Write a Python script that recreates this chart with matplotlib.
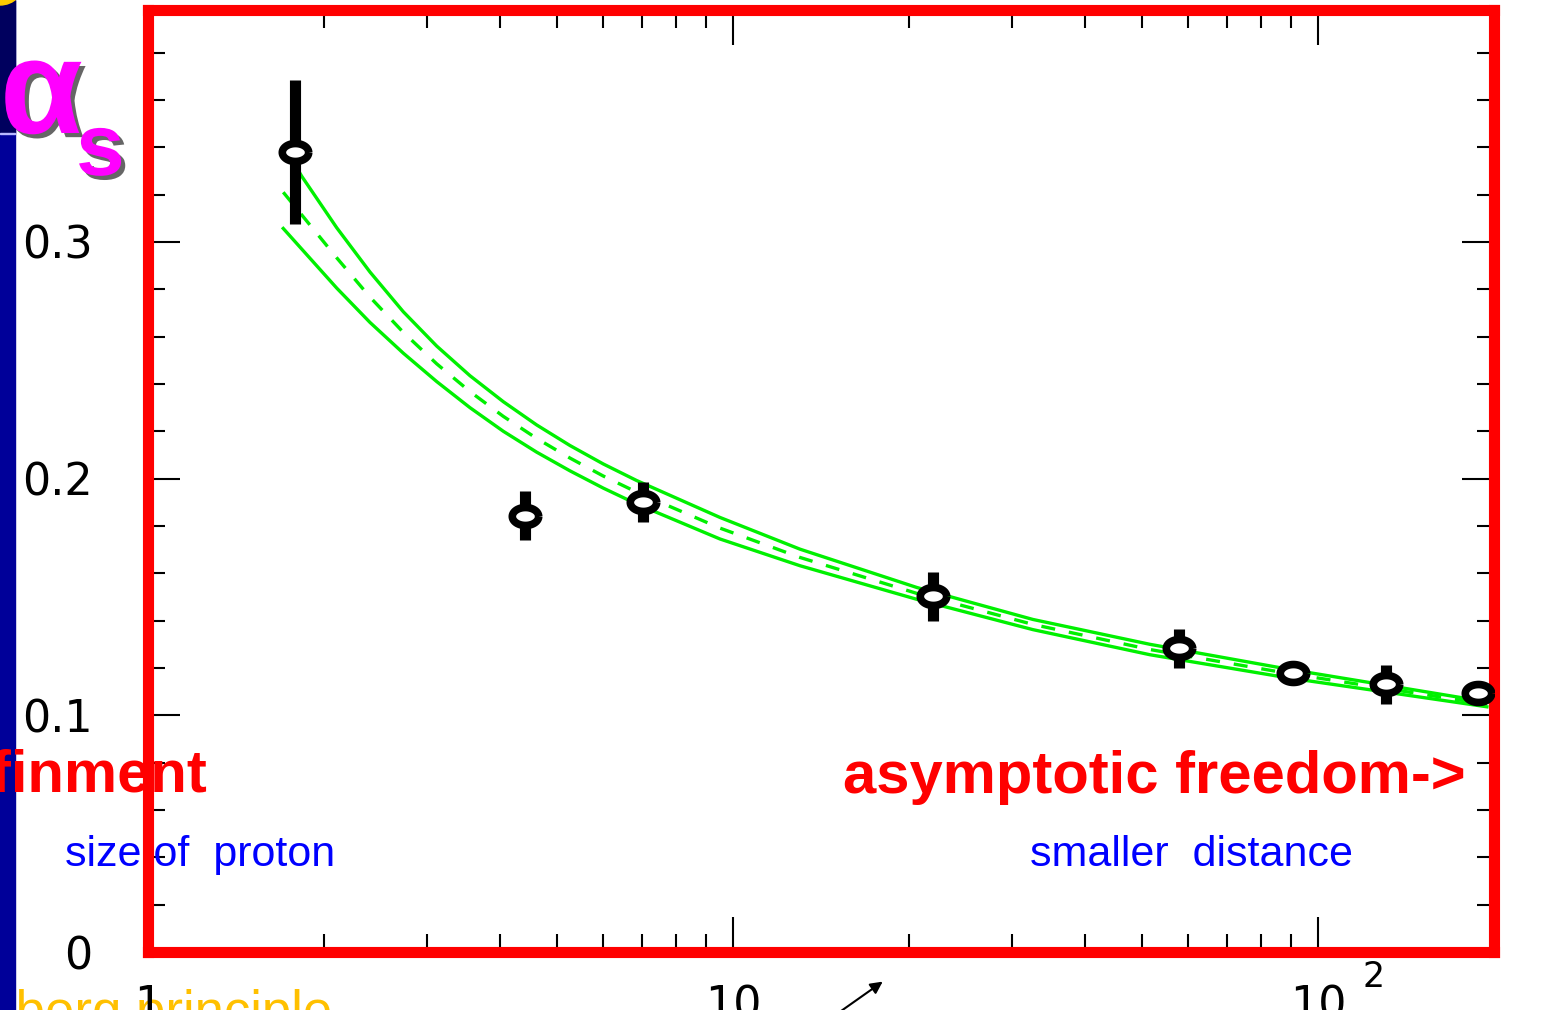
import numpy as np
import matplotlib
matplotlib.use('Agg')
import matplotlib.pyplot as plt
import matplotlib.patheffects as pe
from matplotlib.patches import Rectangle, Circle
from matplotlib.ticker import MultipleLocator, NullFormatter, LogLocator

plt.rcParams['font.family'] = ['Liberation Sans', 'DejaVu Sans']

# Messpunkte alpha_s(Q)
q_punkte = [1.784, 4.41, 7.02, 21.98, 57.87, 90.6, 130.7, 187.7]
alpha_punkte = [0.3378, 0.1844, 0.1903, 0.1505, 0.1285, 0.1180, 0.1133, 0.1095]
fehler_unten = [0.0304, 0.0102, 0.0085, 0.0105, 0.0084, 0.0, 0.0084, 0.0]
fehler_oben = [0.0305, 0.0105, 0.0084, 0.0102, 0.0081, 0.0, 0.0081, 0.0]

# Band (obere / untere Kurve) und Mittelwert (gestrichelt)
q_oben = [1.75, 1.831, 2.102, 2.396, 2.732, 3.116, 3.551, 4.050, 4.617, 5.264,
          6.002, 6.845, 9.502, 13.02, 20.63, 32.57, 51.62, 88.5, 194.5]
alpha_oben = [0.336, 0.3278, 0.3060, 0.2873, 0.2705, 0.2560, 0.2435, 0.2325,
              0.2227, 0.2140, 0.2062, 0.1992, 0.1836, 0.1702, 0.1540, 0.1405,
              0.1300, 0.1196, 0.1057]
q_unten = [1.703, 2.102, 2.396, 2.732, 3.116, 3.551, 4.050, 4.617, 5.264,
           6.002, 6.845, 9.502, 13.02, 20.63, 32.57, 51.62, 88.5, 194.5]
alpha_unten = [0.3057, 0.2805, 0.2660, 0.2530, 0.2410, 0.2300, 0.2200, 0.2112,
               0.2033, 0.1960, 0.1893, 0.1745, 0.1632, 0.1490, 0.1362, 0.1256,
               0.1159, 0.1036]
alpha_mitte = [0.321, 0.2933, 0.2767, 0.2618, 0.2485, 0.2368, 0.2263, 0.2170,
               0.2087, 0.2011, 0.1943, 0.1791, 0.1667, 0.1515, 0.1384, 0.1278,
               0.1178, 0.1047]

x_ticks = [1, 10, 100]
x_labels = ['1', '10', '10']
y_ticks = [0, 0.1, 0.2, 0.3]
y_labels = ['0', '0.1', '0.2', '0.3']

W, H = 1556, 1010
fig = plt.figure(figsize=(W / 100, H / 100), dpi=100)
ax = fig.add_axes([148 / W, 58 / H, (1494 - 148) / W, (952 - 10) / H])

gruen = '#00f000'
ax.plot(q_oben, alpha_oben, color=gruen, lw=2.4)
ax.plot(q_unten, alpha_unten, color=gruen, lw=2.4)
ax.plot(q_unten, alpha_mitte, color=gruen, lw=2.4, dashes=(4.2, 4.2))

ax.errorbar(q_punkte, alpha_punkte, yerr=[fehler_unten, fehler_oben], fmt='none',
            ecolor='black', elinewidth=8, capsize=0, zorder=3)
t = np.linspace(0, 2 * np.pi, 60)
ellipse = np.column_stack([np.cos(t), 0.68 * np.sin(t)])
ax.plot(q_punkte, alpha_punkte, linestyle='none', marker=ellipse, markersize=19,
        markerfacecolor='white', markeredgecolor='black', markeredgewidth=5.5, zorder=4)

ax.set_xscale('log')
ax.set_xlim(1, 200)
ax.set_ylim(0, 0.398)

for s in ax.spines.values():
    s.set_color('red')
    s.set_linewidth(8)

ax.set_xticks(x_ticks)
ax.set_xticklabels([])
ax.xaxis.set_minor_locator(LogLocator(base=10, subs=np.arange(2, 10)))
ax.xaxis.set_minor_formatter(NullFormatter())
ax.set_yticks(y_ticks, labels=y_labels)
ax.yaxis.set_minor_locator(MultipleLocator(0.02))
ax.tick_params(which='both', direction='in', top=True, right=True, color='black', width=1.5)
ax.tick_params(axis='x', which='major', length=25)
ax.tick_params(axis='x', which='minor', length=13)
ax.tick_params(axis='y', which='major', length=23, labelsize=32, pad=40)
ax.tick_params(axis='y', which='minor', length=12)
for lbl in ax.get_yticklabels():
    lbl.set_family('DejaVu Sans')

for v, lbl in zip(x_ticks, x_labels):
    ax.text(v, -0.0701, lbl, transform=ax.get_xaxis_transform(), ha='center',
            va='baseline', fontsize=32, family='DejaVu Sans')
# Exponent bei 10^2
ax.annotate('2', xy=(100, -0.0701), xycoords=ax.get_xaxis_transform(),
            xytext=(32, 22), textcoords='offset points', ha='left', va='baseline',
            fontsize=25, family='DejaVu Sans', annotation_clip=False)

# Folienhintergrund links
fig.patches.append(Rectangle((0, 0), 15 / W, 1, transform=fig.transFigure,
                             color='#000099', zorder=1))
fig.patches.append(Rectangle((0, (H - 133) / H), 15 / W, 133 / H, transform=fig.transFigure,
                             color='#00005e', zorder=1))
fig.patches.append(Rectangle((0, (H - 134) / H), 15 / W, 1.5 / H, transform=fig.transFigure,
                             color='#b8b8ff', zorder=1))
fig.patches.append(Circle((0, H + 20), 25, transform=None, color='#ffcc00', zorder=1))

schatten = [pe.SimplePatchShadow(offset=(3, -3), shadow_rgbFace='black', alpha=0.6), pe.Normal()]
fig.text(0 / W, (H - 133) / H, 'α', fontsize=97, fontweight='bold', color='#ff00ff',
         va='baseline', ha='left', path_effects=schatten, zorder=5)
fig.text(76 / W, (H - 175) / H, 's', fontsize=63, fontweight='bold', color='#ff00ff',
         va='baseline', ha='left', path_effects=schatten, zorder=5)

fig.text(207 / W, (H - 792) / H, 'finment', fontsize=43, fontweight='bold', color='red',
         ha='right', va='baseline', zorder=5)
fig.text(843 / W, (H - 793) / H, 'asymptotic freedom->', fontsize=43, fontweight='bold',
         color='red', ha='left', va='baseline', zorder=5)
fig.text(65 / W, (H - 866) / H, 'size of  proton', fontsize=31, color='#0000ff',
         ha='left', va='baseline', zorder=5)
fig.text(1030 / W, (H - 866) / H, 'smaller  distance', fontsize=31, color='#0000ff',
         ha='left', va='baseline', zorder=5)
fig.text(332 / W, (H - 1028) / H, 'enberg principle', fontsize=38, color='#ffc000',
         ha='right', va='baseline', zorder=-1)

ax.annotate('', xy=(885, H - 980), xytext=(834, -6), xycoords='figure pixels',
            textcoords='figure pixels',
            arrowprops=dict(arrowstyle='-|>', color='black', lw=1.5, mutation_scale=18))

plt.savefig('out.png', dpi=100)
plt.close()
